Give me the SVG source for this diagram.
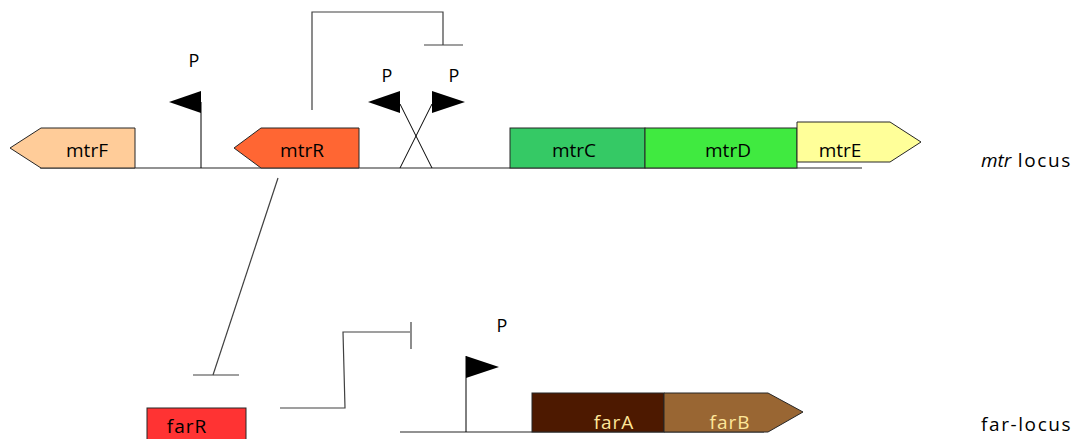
<svg xmlns="http://www.w3.org/2000/svg" width="1084" height="439" viewBox="0 0 1084 439">
  <style>
    .gene { stroke: #262626; stroke-width: 1; }
    .dna { stroke: #262626; stroke-width: 1.2; fill: none; }
    .wire { stroke: #404040; stroke-width: 1.2; fill: none; }
    .flag { fill: #000; stroke: none; }
    .stem { stroke: #000; stroke-width: 1; fill: none; }
    .lbl { font-family: "Open Sans", "Liberation Sans", sans-serif; font-size: 19px; fill: #000; text-anchor: middle; }
    .plbl { font-family: "Open Sans", "Liberation Sans", sans-serif; font-size: 18px; fill: #000; text-anchor: middle; }
    .locus { font-family: "Open Sans", "Liberation Sans", sans-serif; font-size: 19px; fill: #000; letter-spacing: 1.6px; }
    .light { fill: #FFE699; letter-spacing: 1px; }
  </style>

  <!-- DNA backbones -->
  <g id="backbones">
    <line class="dna" x1="40" y1="168" x2="862" y2="168"/>
    <line class="dna" x1="400" y1="432" x2="764" y2="432"/>
  </g>

  <!-- regulatory connectors -->
  <g id="connectors">
    <!-- mtrR represses its own promoter -->
    <polyline class="wire" points="312,110 312,12 443,12 443,45"/>
    <line class="wire" x1="424" y1="45" x2="463" y2="45"/>
    <!-- mtrR represses farR -->
    <line class="wire" x1="278" y1="178" x2="213" y2="375"/>
    <line class="wire" x1="193" y1="375" x2="239" y2="375"/>
    <!-- farR represses farAB promoter -->
    <polyline class="wire" points="280,408 345,408 343,332 410,332"/>
    <line class="wire" x1="411" y1="322" x2="411" y2="349"/>
  </g>

  <!-- mtr locus genes -->
  <g id="mtrF">
    <polygon class="gene" fill="#FFCC99" points="10,148 41,128 135,128 135,168 41,168"/>
    <text class="lbl" x="87" y="157">mtrF</text>
  </g>
  <g id="mtrR">
    <polygon class="gene" fill="#FF6633" points="234,148 261,128 359,128 359,168 261,168"/>
    <text class="lbl" x="302" y="157">mtrR</text>
  </g>
  <g id="mtrC">
    <rect class="gene" fill="#35C965" x="510" y="128" width="135" height="40"/>
    <text class="lbl" x="574" y="157">mtrC</text>
  </g>
  <g id="mtrD">
    <rect class="gene" fill="#40EA40" x="645" y="128" width="152" height="40"/>
    <text class="lbl" x="728" y="157">mtrD</text>
  </g>
  <g id="mtrE">
    <polygon class="gene" fill="#FFFF99" points="797,122 890,122 921,142 890,162 797,162"/>
    <text class="lbl" x="840" y="157">mtrE</text>
  </g>

  <!-- mtr promoters -->
  <g id="promoterF">
    <line class="stem" x1="201" y1="102" x2="201" y2="168"/>
    <polygon class="flag" points="169,102 201,91 201,113"/>
    <text class="plbl" x="194" y="67">P</text>
  </g>
  <g id="promoterR">
    <line class="stem" x1="400" y1="104" x2="432" y2="168"/>
    <polygon class="flag" points="368,102 400,91 400,113"/>
    <text class="plbl" x="387" y="82">P</text>
  </g>
  <g id="promoterCDE">
    <line class="stem" x1="432" y1="104" x2="400" y2="168"/>
    <polygon class="flag" points="465,102 432,91 432,113"/>
    <text class="plbl" x="454" y="82">P</text>
  </g>

  <!-- far locus -->
  <g id="farR">
    <rect class="gene" fill="#FF3333" x="147" y="408" width="99" height="40"/>
    <text class="lbl" x="187" y="433" letter-spacing="1">farR</text>
  </g>
  <g id="promoterFar">
    <line class="stem" x1="466" y1="356" x2="466" y2="432"/>
    <polygon class="flag" points="466,356 499,367 466,378"/>
    <text class="plbl" x="502" y="332">P</text>
  </g>
  <g id="farA">
    <rect class="gene" fill="#4D1900" x="532" y="393" width="132" height="39"/>
    <text class="lbl light" x="614" y="429">farA</text>
  </g>
  <g id="farB">
    <polygon class="gene" fill="#996633" points="664,393 768,393 803,412 768,432 664,432"/>
    <text class="lbl light" x="730" y="429">farB</text>
  </g>

  <!-- locus labels -->
  <g id="labels">
    <text class="locus" x="981" y="167"><tspan font-style="italic" letter-spacing="0">mtr</tspan> locus</text>
    <text class="locus" x="981" y="431">far-locus</text>
  </g>
</svg>
